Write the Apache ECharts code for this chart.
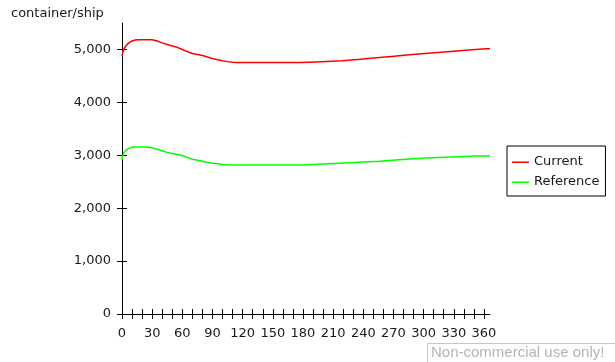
<!DOCTYPE html>
<html>
<head>
<meta charset="utf-8">
<script src="https://cdn.jsdelivr.net/npm/echarts@6/dist/echarts.min.js"></script>
<style>html,body{margin:0;padding:0;background:#fff}#c{width:615px;height:362px}</style>
</head>
<body>
<div id="c"></div>
<script>
var seriesNames = ['Current', 'Reference'];
var yAxisTitle = 'container/ship';
var xTickLabels = [0, 30, 60, 90, 120, 150, 180, 210, 240, 270, 300, 330, 360];
var xMinorTicks = [0,10,20,30,40,50,60,70,80,90,100,110,120,130,140,150,160,170,180,190,200,210,220,230,240,250,260,270,280,290,300,310,320,330,340,350,360];
var yTickValues = [0, 1000, 2000, 3000, 4000, 5000];

var currentDays   = [0, 1, 2, 4, 6, 8, 10, 13, 16, 30, 35, 40, 45, 50, 55, 60, 65, 70, 75, 80, 85, 90, 95, 100, 105, 110, 115, 177, 193, 219, 237, 253, 268, 283, 298, 314, 330, 348, 362, 366];
var currentValues = [4880, 4960, 5010, 5070, 5110, 5140, 5160, 5178, 5183, 5183, 5160, 5125, 5095, 5065, 5040, 5000, 4960, 4925, 4905, 4885, 4858, 4828, 4805, 4785, 4770, 4758, 4752, 4752, 4765, 4787, 4815, 4843, 4868, 4893, 4918, 4943, 4968, 4994, 5013, 5013];

var referenceDays   = [0, 1, 2, 4, 6, 8, 11, 25, 30, 35, 40, 45, 50, 55, 60, 65, 70, 75, 80, 85, 90, 95, 100, 105, 181, 200, 231, 256, 279, 302, 327, 352, 366];
var referenceValues = [2920, 3000, 3050, 3095, 3120, 3140, 3155, 3155, 3140, 3115, 3085, 3055, 3035, 3015, 2995, 2960, 2925, 2905, 2885, 2865, 2850, 2838, 2825, 2815, 2815, 2836, 2862, 2887, 2919, 2949, 2968, 2987, 2987];

function zip(xs, ys) { return xs.map(function (x, i) { return [x, ys[i]]; }); }

var lineIcon = 'path://M0,0 L0.01,0 M0,6.5 L17,6.5 L17,8 L0,8 Z M0,14 L0.01,14';

var chart = echarts.init(document.getElementById('c'), null, { renderer: 'canvas' });
chart.setOption({
  animation: false,
  backgroundColor: '#ffffff',
  grid: { left: 122, right: 125, top: 23, bottom: 48, containLabel: false },
  legend: {
    orient: 'vertical',
    left: 507, top: 146,
    padding: [9, 6, 7, 5],
    borderColor: '#000', borderWidth: 1,
    itemWidth: 17, itemHeight: 14, itemGap: 6,
    icon: lineIcon,
    textStyle: { color: '#1a1a1a', fontFamily: 'DejaVu Sans', fontSize: 13 },
    data: seriesNames
  },
  xAxis: [{
    type: 'value', min: 0, max: 366, position: 'bottom',
    splitLine: { show: false },
    axisLine: { show: true, onZero: false, lineStyle: { color: '#000', width: 1 } },
    axisTick: { show: true, inside: false, length: 5, customValues: xMinorTicks, lineStyle: { color: '#000' } },
    axisLabel: { show: true, margin: 13, customValues: xTickLabels, fontFamily: 'DejaVu Sans', fontSize: 13, color: '#1a1a1a' }
  }, {
    type: 'value', min: 0, max: 366, position: 'bottom',
    splitLine: { show: false },
    axisLine: { show: false, onZero: false },
    axisTick: { show: true, inside: true, length: 5, customValues: xMinorTicks, lineStyle: { color: '#000' } },
    axisLabel: { show: false }
  }],
  yAxis: [{
    type: 'value', min: 0, max: 5500, position: 'left',
    splitLine: { show: false },
    axisLine: { show: true, onZero: false, lineStyle: { color: '#000', width: 1 } },
    axisTick: { show: true, inside: false, length: 5, customValues: yTickValues, lineStyle: { color: '#000' } },
    axisLabel: {
      show: true, margin: 11, customValues: yTickValues, fontFamily: 'DejaVu Sans', fontSize: 13, color: '#1a1a1a',
      formatter: function (v) { return v.toLocaleString('en-US'); }
    }
  }, {
    type: 'value', min: 0, max: 5500, position: 'left',
    splitLine: { show: false },
    axisLine: { show: false, onZero: false },
    axisTick: { show: true, inside: true, length: 5, customValues: yTickValues, lineStyle: { color: '#000' } },
    axisLabel: { show: false }
  }],
  graphic: [
    { type: 'text', left: 11, top: 7, style: { text: yAxisTitle, fill: '#1a1a1a', font: '13px "DejaVu Sans"' } },
    { type: 'rect', shape: { x: 427.5, y: 343.5, width: 190, height: 22 }, style: { fill: '#fff', stroke: '#c8c8c8', lineWidth: 1 } },
    { type: 'text', x: 431, y: 345, style: { text: 'Non-commercial use only!', fill: '#b4b4b4', font: '15px "Liberation Sans"' } }
  ],
  series: [{
    name: seriesNames[0], type: 'line', xAxisIndex: 0, yAxisIndex: 0,
    showSymbol: false, symbol: 'none',
    lineStyle: { color: '#ff0000', width: 1.5 }, itemStyle: { color: '#ff0000' },
    data: zip(currentDays, currentValues)
  }, {
    name: seriesNames[1], type: 'line', xAxisIndex: 0, yAxisIndex: 0,
    showSymbol: false, symbol: 'none',
    lineStyle: { color: '#00ff00', width: 1.5 }, itemStyle: { color: '#00ff00' },
    data: zip(referenceDays, referenceValues)
  }]
});
</script>
</body>
</html>
